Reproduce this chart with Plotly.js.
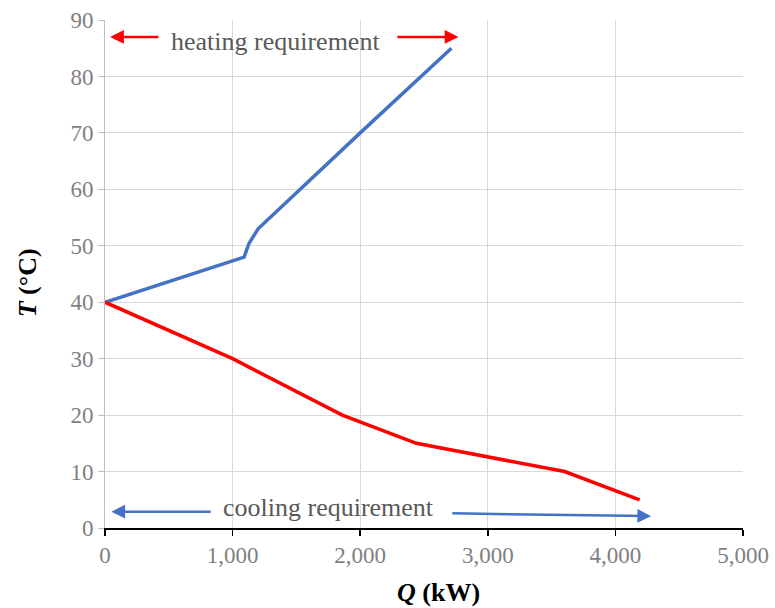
<!DOCTYPE html>
<html>
<head>
<meta charset="utf-8">
<script src="https://cdn.plot.ly/plotly-3.0.1.min.js"></script>
<style>html,body{margin:0;padding:0;background:#fff}#chart{width:775px;height:608px}</style>
</head>
<body>
<div id="chart"></div>
<script>
// Heating (hot) curve
const heatQ = [0, 1090, 1130, 1200, 2000, 2715];
const heatT = [40, 48, 50.5, 53, 70, 85];
// Cooling (cold) curve
const coolQ = [0, 1000, 1860, 2441, 3602, 4190];
const coolT = [40, 30, 20, 15, 10, 5];

const xTicks = [0, 1000, 2000, 3000, 4000, 5000];
const yTicks = [0, 10, 20, 30, 40, 50, 60, 70, 80, 90];

const serif = 'Liberation Serif, Times New Roman, serif';
const blue = '#4472C4';
const red = '#FF0000';

const traces = [
  {x: heatQ, y: heatT, mode: 'lines', line: {color: blue, width: 3.5}, hoverinfo: 'skip'},
  {x: coolQ, y: coolT, mode: 'lines', line: {color: red, width: 3.5}, hoverinfo: 'skip'}
];

function arrow(x, y, ax, ay, color) {
  return {x: x, y: y, ax: ax, ay: ay, xref: 'x', yref: 'y', axref: 'x', ayref: 'y',
    text: '', showarrow: true, arrowhead: 2, arrowsize: 1.1, arrowwidth: 2.5, arrowcolor: color};
}

const layout = {
  width: 775, height: 608,
  margin: {l: 105, r: 31.5, t: 20, b: 80},
  paper_bgcolor: '#fff', plot_bgcolor: '#fff',
  showlegend: false,
  xaxis: {
    range: [0, 5000], tickvals: xTicks, ticktext: xTicks.map(v => v.toLocaleString('en-US')),
    showgrid: true, gridcolor: '#d9d9d9', gridwidth: 1,
    zeroline: false, showline: true, linecolor: '#000', linewidth: 1.5,
    ticks: 'outside', ticklen: 6, tickcolor: '#000', tickwidth: 1.5,
    tickfont: {family: serif, size: 23, color: '#7f7f7f'}
  },
  yaxis: {
    range: [0, 90], tickvals: yTicks,
    showgrid: true, gridcolor: '#d9d9d9', gridwidth: 1,
    zeroline: false, showline: true, linecolor: '#bfbfbf', linewidth: 1,
    ticks: 'outside', ticklen: 6, tickcolor: '#bfbfbf',
    tickfont: {family: serif, size: 23, color: '#7f7f7f'}
  },
  annotations: [
    {x: 0.523, y: -0.126, xref: 'paper', yref: 'paper', xanchor: 'center', yanchor: 'middle',
     text: '<b><i>Q</i> (kW)</b>', showarrow: false,
     font: {family: serif, size: 26, color: '#000'}},
    {x: -0.122, y: 0.482, xref: 'paper', yref: 'paper', xanchor: 'center', yanchor: 'middle',
     text: '<b><i>T</i> (°C)</b>', showarrow: false,
     textangle: -90, font: {family: serif, size: 26, color: '#000'}},
    {x: 1340, y: 86.2, xref: 'x', yref: 'y', text: 'heating requirement', showarrow: false,
     font: {family: serif, size: 26, color: '#595959'}},
    arrow(40, 87.0, 430, 87.0, red),
    arrow(2770, 87.0, 2280, 87.0, red),
    {x: 1755, y: 3.6, xref: 'x', yref: 'y', text: 'cooling requirement', showarrow: false,
     font: {family: serif, size: 26, color: '#595959'}},
    arrow(50, 2.9, 840, 2.9, blue),
    arrow(4280, 2.1, 2710, 2.6, blue)
  ]
};

Plotly.newPlot('chart', traces, layout, {displayModeBar: false, staticPlot: true});
</script>
</body>
</html>
